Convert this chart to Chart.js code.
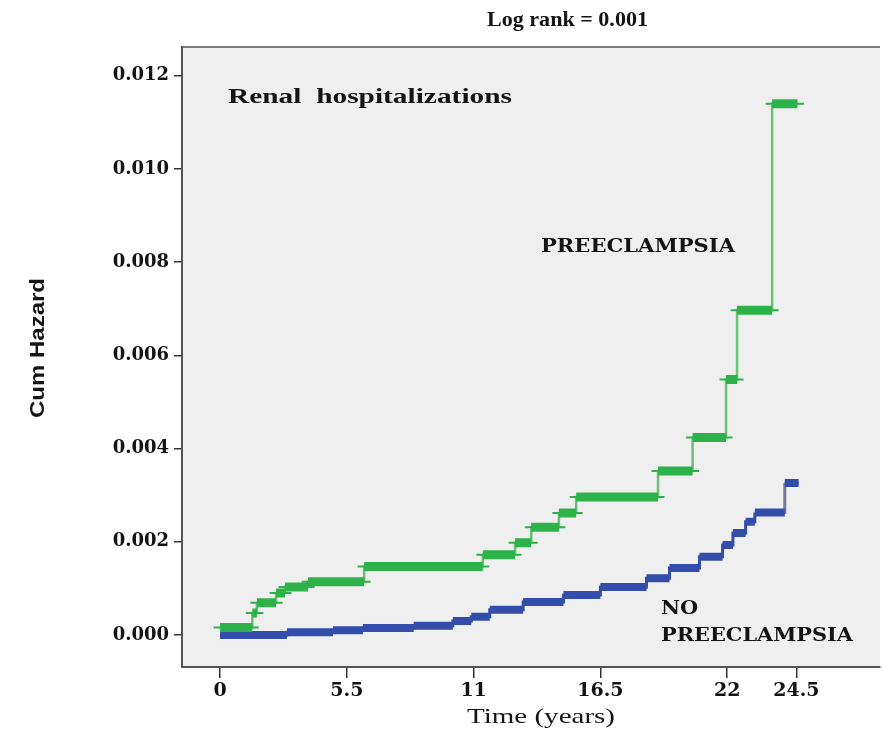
<!DOCTYPE html>
<html><head><meta charset="utf-8">
<script src="https://cdn.jsdelivr.net/npm/chart.js@4.4.0/dist/chart.umd.min.js"></script>
<style>html,body{margin:0;padding:0;background:#fff;}#wrap{width:883px;height:732px;}</style>
</head><body><div id="wrap"><canvas id="c" width="883" height="732"></canvas></div>
<script>
// ---- data ----
const xTickValues = [0, 5.5, 11, 16.5, 22, 25];
const xTickLabels = ["0", "5.5", "11", "16.5", "22", "24.5"];
const yTickValues = [0, 0.002, 0.004, 0.006, 0.008, 0.010, 0.012];
const yTickLabels = ["0.000", "0.002", "0.004", "0.006", "0.008", "0.010", "0.012"];

// PREECLAMPSIA: step start times (years) and cumulative hazard
const preTimes = [0, 1.4, 1.6, 2.43, 2.82, 3.82, 6.25, 11.4, 12.8, 13.5, 14.7, 15.45, 19.0, 20.5, 21.95, 22.43, 23.95];
const preHaz   = [0.00016, 0.00047, 0.00069, 0.00090, 0.00103, 0.00114, 0.00147, 0.00172, 0.00198, 0.00231, 0.00262, 0.00296, 0.00352, 0.00424, 0.00548, 0.00697, 0.01140];
const preEnd = 25.05;

// NO PREECLAMPSIA
const noTimes = [0, 2.9, 4.9, 6.2, 8.4, 10.1, 10.9, 11.7, 13.15, 14.9, 16.5, 18.5, 19.5, 20.8, 21.8, 22.25, 22.8, 23.2, 24.5];
const noHaz   = [0.00000, 0.00006, 0.00010, 0.00015, 0.00020, 0.00030, 0.00039, 0.00054, 0.00071, 0.00086, 0.00103, 0.00122, 0.00144, 0.00168, 0.00193, 0.00219, 0.00243, 0.00263, 0.00326];
const noEnd = 25.1;

// ---- build datasets ----
function stepLine(times, haz, end) {
  const pts = times.map((t, i) => ({x: t, y: haz[i]}));
  pts.push({x: end, y: haz[haz.length - 1]});
  return pts;
}
function bands(times, haz, end, ext) {
  const pts = [];
  times.forEach((t, i) => {
    const t2 = i + 1 < times.length ? times[i + 1] : end;
    pts.push({x: t - ext, y: haz[i]});
    pts.push({x: t2 + ext, y: haz[i]});
    pts.push({x: t2 + ext, y: null});
  });
  return pts;
}

const GREEN = 'rgb(44,178,72)';
const GREEN_V = 'rgb(104,194,116)';
const BLUE = 'rgb(50,78,170)';
const BLUE_V = 'rgb(118,120,150)';

const bgPlugin = {
  id: 'bg',
  beforeDraw(chart) {
    const {ctx, chartArea: a} = chart;
    ctx.save();
    ctx.fillStyle = '#ffffff';
    ctx.fillRect(0, 0, chart.width, chart.height);
    ctx.fillStyle = '#efefef';
    ctx.fillRect(a.left, a.top, a.right - a.left, a.bottom - a.top);
    ctx.strokeStyle = '#7a7a7a';
    ctx.lineWidth = 2;
    ctx.beginPath();
    ctx.moveTo(a.left, a.top); ctx.lineTo(a.right, a.top);
    ctx.stroke();
    ctx.restore();
  }
};

function fitText(ctx, text, font, x, y, width, rot, fixedScale) {
  ctx.save();
  ctx.font = font;
  ctx.fillStyle = '#141414';
  ctx.textBaseline = 'middle';
  ctx.textAlign = 'left';
  const w = ctx.measureText(text).width;
  const s = fixedScale || width / w;
  ctx.translate(x, y);
  if (rot) ctx.rotate(rot);
  ctx.scale(s, 1);
  ctx.fillText(text, 0, 0);
  ctx.restore();
  return s;
}

const textPlugin = {
  id: 'texts',
  afterDraw(chart) {
    const ctx = chart.ctx;
    fitText(ctx, 'Log rank = 0.001', 'bold 20px "Liberation Serif"', 487, 21, 161);
    fitText(ctx, 'Renal  hospitalizations', 'bold 22px "Liberation Serif"', 228, 97, 284);
    fitText(ctx, 'PREECLAMPSIA', 'bold 19px "DejaVu Serif"', 541, 247, 194);
    const s = fitText(ctx, 'PREECLAMPSIA', 'bold 19px "DejaVu Serif"', 661, 636, 192);
    fitText(ctx, 'NO', 'bold 19px "DejaVu Serif"', 661, 609, 0, 0, s);
    fitText(ctx, 'Time (years)', '22px "Liberation Serif"', 467, 717, 148);
    fitText(ctx, 'Cum Hazard', 'bold 20px "Liberation Sans"', 38, 418, 140, -Math.PI / 2);
  }
};

new Chart(document.getElementById('c'), {
  type: 'line',
  data: {
    datasets: [
      {data: bands(preTimes, preHaz, preEnd, 0), order: 0, borderColor: GREEN, borderWidth: 9, borderCapStyle: 'butt', pointRadius: 0, fill: false, spanGaps: false},
      {data: bands(preTimes, preHaz, preEnd, 0.28), order: 1, borderColor: GREEN, borderWidth: 2, borderCapStyle: 'butt', pointRadius: 0, fill: false, spanGaps: false},
      {data: stepLine(preTimes, preHaz, preEnd), order: 2, stepped: 'before', borderColor: GREEN_V, borderWidth: 2.5, pointRadius: 0, fill: false},
      {data: bands(noTimes, noHaz, noEnd, 0), order: 3, borderColor: BLUE, borderWidth: 8, borderCapStyle: 'butt', pointRadius: 0, fill: false, spanGaps: false},
      {data: stepLine(noTimes, noHaz, noEnd), order: 4, stepped: 'before', borderColor: BLUE, borderWidth: 3, pointRadius: 0, fill: false,
        segment: {borderColor: c => c.p1DataIndex === noTimes.length - 1 ? BLUE_V : BLUE}}
    ]
  },
  options: {
    responsive: false,
    animation: false,
    layout: {padding: {top: 47, right: 3, left: 0, bottom: 0}},
    plugins: {legend: {display: false}, tooltip: {enabled: false}, title: {display: false}},
    scales: {
      x: {
        type: 'linear', min: -1.65, max: 28.63,
        afterBuildTicks: s => { s.ticks = xTickValues.map(v => ({value: v})); },
        afterFit: s => { s.height = 65; },
        ticks: {
          autoSkip: false, maxRotation: 0, padding: 2, color: '#141414',
          font: {family: '"DejaVu Serif"', size: 19, weight: 'bold'},
          callback: (v, i) => xTickLabels[i]
        },
        grid: {display: true, drawOnChartArea: false, drawTicks: true, tickLength: 11, color: '#333', lineWidth: 1.5},
        border: {display: true, color: '#555', width: 2}
      },
      y: {
        type: 'linear', min: -0.000687, max: 0.012618,
        afterBuildTicks: s => { s.ticks = yTickValues.map(v => ({value: v})); },
        afterFit: s => { s.width = 182; },
        ticks: {
          autoSkip: false, padding: 5, color: '#141414',
          font: {family: '"DejaVu Serif"', size: 18, weight: 'bold'},
          callback: (v, i) => yTickLabels[i]
        },
        grid: {display: true, drawOnChartArea: false, drawTicks: true, tickLength: 8, color: '#333', lineWidth: 1.5},
        border: {display: true, color: '#555', width: 2}
      }
    }
  },
  plugins: [bgPlugin, textPlugin]
});
</script>
</body></html>
